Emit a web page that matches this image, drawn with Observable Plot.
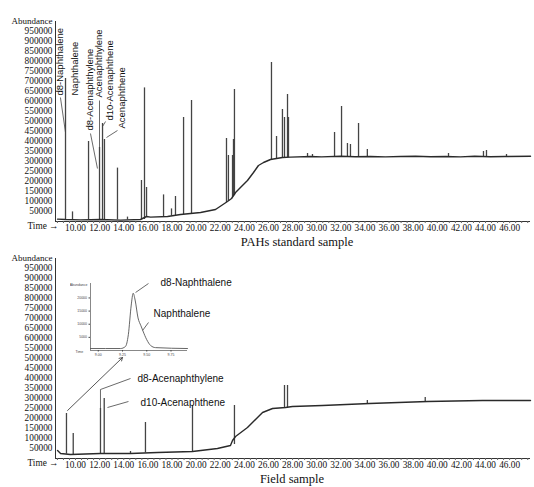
<!DOCTYPE html>
<html><head><meta charset="utf-8">
<script src="https://cdn.jsdelivr.net/npm/d3@7"></script>
<script src="https://cdn.jsdelivr.net/npm/@observablehq/plot@0.6"></script>
<style>
body{margin:0;background:#fff;width:534px;height:487px;position:relative;overflow:hidden}
.abs{position:absolute}
.cap{font-family:"Liberation Serif","Times New Roman",serif;font-size:12.5px;color:#111;text-align:center;width:534px;line-height:14px}
</style></head><body>
<div id="top" class="abs" style="left:0;top:0"></div>
<div id="bottom" class="abs" style="left:0;top:248px"></div>
<div id="inset" class="abs" style="left:70px;top:278px"></div>
<div class="abs cap" style="left:30px;top:235px">PAHs standard sample</div>
<div class="abs cap" style="left:25px;top:472px">Field sample</div>
<script>
// ---------- axis ticks ----------
const xTicks = [10,12,14,16,18,20,22,24,26,28,30,32,34,36,38,40,42,44,46];
const yTicks = [50000,100000,150000,200000,250000,300000,350000,400000,450000,500000,
                550000,600000,650000,700000,750000,800000,850000,900000,950000];

// ---------- PAHs standard sample: baseline ----------
const stdBaseT = [8.51,9.17,10.41,12.07,13.73,15.39,15.89,16.22,17.63,18.71,20.37,21.61,22.60,22.94,23.27,23.68,24.26,24.76,25.17,25.59,26.17,27.16,27.83,29.49,30.40,31.97,33.20,34.46,35.70,36.95,38.20,39.44,40.70,41.92,43.10,44.41,45.60,47.73];
const stdBaseV = [12000,10000,8000,10000,7000,10000,25000,22000,25000,35000,45000,60000,100000,115000,145000,170000,205000,245000,280000,295000,310000,320000,322000,325000,323000,326000,324000,325000,323000,325000,326000,324000,325000,323000,326000,324000,325000,326000];
// ---------- PAHs standard sample: peaks ----------
const stdPeakT    = [9.17,9.75,11.08,11.99,12.24,12.40,13.48,14.31,15.47,15.72,15.89,17.30,17.96,18.29,18.96,19.62,22.52,22.68,23.02,23.10,23.18,26.25,26.67,27.16,27.33,27.58,27.66,29.24,29.65,31.48,32.06,32.55,32.80,33.47,34.20,40.93,43.83,44.08,45.74];
const stdPeakBase = [10000,10000,10000,10000,10000,10000,8000,8000,10000,10000,20000,25000,28000,30000,35000,40000,95000,100000,120000,125000,130000,310000,315000,318000,320000,320000,320000,325000,325000,325000,325000,325000,325000,325000,325000,325000,325000,325000,325000];
const stdPeakTop  = [715000,48000,400000,370000,490000,410000,267000,22000,205000,668000,170000,133000,63000,125000,520000,605000,415000,330000,330000,410000,660000,795000,425000,560000,520000,635000,520000,340000,335000,445000,575000,390000,385000,490000,360000,340000,350000,355000,335000];

// ---------- Field sample: baseline ----------
const fldBaseT = [8.51,8.76,9.58,12.07,14.56,16.80,19.70,21.77,22.85,23.02,23.27,24.26,25.51,26.34,27.41,27.99,30.48,34.38,39.19,43.75,47.73];
const fldBaseV = [40000,25000,20000,25000,25000,30000,35000,50000,65000,90000,110000,155000,230000,250000,255000,260000,265000,275000,285000,290000,290000];
// ---------- Field sample: peaks ----------
const fldPeakT    = [9.25,9.81,12.07,12.38,14.56,15.80,19.70,23.18,27.33,27.58,34.20,39.00];
const fldPeakBase = [22000,20000,25000,25000,25000,28000,35000,70000,255000,255000,275000,285000];
const fldPeakTop  = [225000,125000,250000,300000,35000,180000,265000,265000,365000,365000,290000,305000];

// ---------- Inset (d8-Naphthalene / Naphthalene) ----------
const insetT = [8.92,9.23,9.28,9.31,9.34,9.36,9.38,9.41,9.44,9.46,9.50,9.54,9.59,9.92];
const insetV = [750,750,1500,6000,17300,21800,19200,12400,9400,7500,4100,1900,1100,750];
const insetXTicks = [9.00,9.25,9.50,9.75];
const insetYTicks = [5000,10000,15000,20000];

// ---------- annotations ----------
const stdLabels = ["d8-Naphthalene","Naphthalene","d8-Acenaphthylene","Acenaphthylene","d10-Acenaphthene","Acenaphthene"];
const stdLabelT = [8.67,9.92,11.16,11.91,12.82,13.81];
const stdLabelV = [630000,630000,455000,620000,505000,465000];
const stdLeaders = [
  {x1:8.75,y1:620000,x2:9.17,y2:445000},
  {x1:11.24,y1:440000,x2:11.82,y2:265000},
  {x1:11.99,y1:605000,x2:11.99,y2:370000},
  {x1:12.49,y1:500000,x2:12.24,y2:475000},
  {x1:13.48,y1:455000,x2:12.57,y2:420000}
];
const fldLabels = ["d8-Naphthalene","Naphthalene","d8-Acenaphthylene","d10-Acenaphthene"];
const fldLabelT = [17.05,16.47,15.14,15.39];
const fldLabelV = [880000,725000,400000,280000];
const fldLeaders = [
  {x1:16.05,y1:875000,x2:14.98,y2:830000},
  {x1:16.05,y1:680000,x2:15.56,y2:640000},
  {x1:14.56,y1:400000,x2:12.07,y2:345000},
  {x1:12.07,y1:345000,x2:12.07,y2:250000},
  {x1:14.39,y1:285000,x2:12.65,y2:255000}
];
const fldArrow = [{x1:9.34,y1:240000,x2:13.9,y2:505000}];

const xDomain = [8.34, 47.73];
const SERIF = '"Liberation Serif","Times New Roman",serif';
const SANS = '"Liberation Sans",Arial,sans-serif';
const INK = "#2a2a2a";

const rows = (a, b) => a.map((t, i) => ({t, v: b[i]}));
const peakRows = (t, b, p) => t.map((x, i) => ({t: x, base: b[i], top: p[i]}));

function panel({height, marginTop, marginBottom, baseT, baseV, pT, pB, pTop, extra}) {
  return Plot.plot({
    width: 534, height, marginLeft: 55, marginRight: 4, marginTop, marginBottom,
    x: {domain: xDomain},
    y: {domain: [0, 1000000]},
    style: {fontFamily: SERIF, fontSize: "9.3px", color: "#111", background: "transparent"},
    marks: [
      Plot.ruleY([0], {stroke: "#333", strokeWidth: 1}),
      Plot.ruleX([xDomain[0]], {y1: 0, y2: 1000000, stroke: "#333", strokeWidth: 1}),
      Plot.axisY(yTicks, {tickSize: 0, tickPadding: 3, tickFormat: d3.format("d"), label: null}),
      Plot.axisX(xTicks, {tickSize: 0, tickPadding: 3, tickFormat: d => d.toFixed(2), label: null}),
      Plot.axisX({ticks: 80, tickSize: 2, tickFormat: () => "", label: null, stroke: "#666"}),
      Plot.text(["Abundance"], {frameAnchor: "top-left", dx: -3, dy: -3.5, textAnchor: "end", fontSize: 9}),
      Plot.text(["Time \u2192"], {frameAnchor: "bottom-left", dx: -28, dy: 7, textAnchor: "start", fontSize: 9.3}),
      Plot.ruleX(peakRows(pT, pB, pTop), {x: "t", y1: "base", y2: "top", stroke: "#444", strokeWidth: 1.3}),
      Plot.line(rows(baseT, baseV), {x: "t", y: "v", stroke: INK, strokeWidth: 1.4}),
      ...extra
    ]
  });
}

const topPlot = panel({
  height: 238, marginTop: 21, marginBottom: 17,
  baseT: stdBaseT, baseV: stdBaseV, pT: stdPeakT, pB: stdPeakBase, pTop: stdPeakTop,
  extra: [
    Plot.link(stdLeaders, {x1: "x1", y1: "y1", x2: "x2", y2: "y2", stroke: "#444", strokeWidth: 0.8}),
    Plot.text(stdLabels, {x: (d, i) => stdLabelT[i], y: (d, i) => stdLabelV[i], text: d => d,
      rotate: -90, textAnchor: "start", lineAnchor: "middle", fontFamily: SANS, fontSize: 9.5, fill: "#111"})
  ]
});
document.getElementById("top").appendChild(topPlot);

const bottomPlot = panel({
  height: 226, marginTop: 10, marginBottom: 16,
  baseT: fldBaseT, baseV: fldBaseV, pT: fldPeakT, pB: fldPeakBase, pTop: fldPeakTop,
  extra: [
    Plot.link(fldLeaders, {x1: "x1", y1: "y1", x2: "x2", y2: "y2", stroke: "#444", strokeWidth: 0.8}),
    Plot.arrow(fldArrow, {x1: "x1", y1: "y1", x2: "x2", y2: "y2", stroke: "#444", strokeWidth: 0.9, headLength: 6, bend: 0}),
    Plot.text(fldLabels, {x: (d, i) => fldLabelT[i], y: (d, i) => fldLabelV[i], text: d => d,
      textAnchor: "start", fontFamily: SANS, fontSize: 10, fill: "#111"})
  ]
});
document.getElementById("bottom").appendChild(bottomPlot);

const insetPlot = Plot.plot({
  width: 120, height: 78, marginLeft: 20, marginRight: 3, marginTop: 5, marginBottom: 6,
  x: {domain: [8.92, 9.92]},
  y: {domain: [0, 25500]},
  style: {fontFamily: SANS, fontSize: "3.5px", color: "#444", background: "transparent"},
  marks: [
    Plot.ruleY([0], {stroke: "#555", strokeWidth: 0.7}),
    Plot.ruleX([8.92], {y1: 0, y2: 25500, stroke: "#555", strokeWidth: 0.7}),
    Plot.axisY(insetYTicks, {tickSize: 1.5, tickPadding: 2, tickFormat: d3.format("d"), label: null}),
    Plot.axisX(insetXTicks, {tickSize: 1.5, tickPadding: 1, tickFormat: d => d.toFixed(2), label: null}),
    Plot.text(["Abundance"], {frameAnchor: "top-left", dx: -3, dy: 0, textAnchor: "end", fontSize: 3.5}),
    Plot.text(["Time"], {frameAnchor: "bottom-left", dx: -15, dy: 2, textAnchor: "start", fontSize: 3.5}),
    Plot.line(rows(insetT, insetV), {x: "t", y: "v", stroke: "#555", strokeWidth: 0.9, curve: "monotone-x"})
  ]
});
document.getElementById("inset").appendChild(insetPlot);
</script>
</body></html>
